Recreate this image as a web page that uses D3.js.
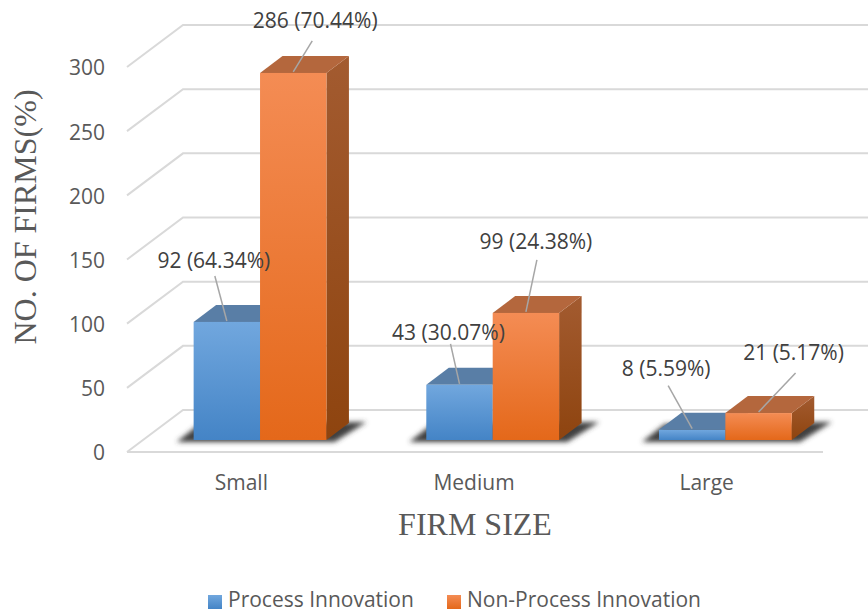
<!DOCTYPE html>
<html><head><meta charset="utf-8">
<script src="https://cdn.jsdelivr.net/npm/d3@7"></script>
<style>html,body{margin:0;background:#fff}svg{display:block}text{font-family:"Open Sans",sans-serif}</style>
</head><body><svg id="c" width="868" height="612"></svg>
<script>
const categories = ["Small", "Medium", "Large"];
const processInnovation = [92, 43, 8];
const nonProcessInnovation = [286, 99, 21];
const processLabels = ["92 (64.34%)", "43 (30.07%)", "8 (5.59%)"];
const nonProcessLabels = ["286 (70.44%)", "99 (24.38%)", "21 (5.17%)"];
const seriesNames = ["Process Innovation", "Non-Process Innovation"];
const yTicks = [0, 50, 100, 150, 200, 250, 300];

const svg = d3.select("#c");
const defs = svg.append("defs");
function grad(id, a, b) {
  const g = defs.append("linearGradient").attr("id", id).attr("x1", 0).attr("y1", 0).attr("x2", 0).attr("y2", 1);
  g.append("stop").attr("offset", 0).attr("stop-color", a);
  g.append("stop").attr("offset", 1).attr("stop-color", b);
}
grad("blue", "#71a7de", "#4484c6");
grad("orange", "#f48c54", "#e4681a");
grad("side", "#a35b30", "#8e440f");
defs.append("filter").attr("id", "blur").attr("x", "-20%").attr("y", "-50%").attr("width", "140%").attr("height", "200%")
  .append("feGaussianBlur").attr("stdDeviation", 2.6);

const depthX = 22.5, depthY = 17;
const wallX = 56, wallY = 42;
const x = d3.scaleBand().domain(categories).range([125, 823]);
const yAxis = d3.scaleLinear().domain([0, 300]).range([452, 67]);
const yBar = d3.scaleLinear().domain([0, 300]).range([440, 55]);
const grey = "#595959";

// gridlines: side wall and back wall
const gridG = svg.append("g").attr("fill", "none").attr("stroke", "#d9d9d9").attr("stroke-width", 2);
yTicks.forEach(t => {
  const y0 = yAxis(t);
  gridG.append("path").attr("d", `M127,${y0}L${127 + wallX},${y0 - wallY}L868,${y0 - wallY}`);
});
gridG.append("path").attr("d", `M127,${yAxis(0)}L823,${yAxis(0)}`);

// y tick labels
svg.append("g").selectAll("text").data(yTicks).join("text")
  .attr("x", 105).attr("y", d => yAxis(d) + 1).attr("dy", "0.35em").attr("text-anchor", "end")
  .attr("font-size", 21).attr("fill", grey).text(d => d);

// category labels
svg.append("g").selectAll("text").data(categories).join("text")
  .attr("x", d => x(d) + x.bandwidth() / 2).attr("y", 490).attr("text-anchor", "middle")
  .attr("font-size", 21).attr("fill", grey).text(d => d);

const barW = 66.4, shift = 18.7;
const barLeft = (c, s) => x(c) + x.bandwidth() / 2 + shift - barW + s * barW;

// floor shadows
svg.append("g").selectAll("path").data(categories).join("path")
  .attr("filter", "url(#blur)").attr("fill", "#3f3f3f")
  .attr("d", c => {
    const l = barLeft(c, 0), r = barLeft(c, 2), b = yBar(0);
    return `M${l - 17},${b + 2}L${l + 6},${b - 16}L${r + 40},${b - 18}L${r + 8},${b + 2}Z`;
  });

// bars
function bar(c, s, v, front, top, side) {
  const g = svg.append("g");
  const l = barLeft(c, s), r = l + barW, t = yBar(v), b = yBar(0);
  g.append("path").attr("fill", side).attr("d", `M${r},${t}L${r + depthX},${t - depthY}L${r + depthX},${b - depthY}L${r},${b}Z`);
  g.append("path").attr("fill", top).attr("d", `M${l},${t}L${l + depthX},${t - depthY}L${r + depthX},${t - depthY}L${r},${t}Z`);
  g.append("rect").attr("x", l).attr("y", t).attr("width", barW).attr("height", b - t).attr("fill", front);
}
categories.forEach((c, i) => {
  bar(c, 0, processInnovation[i], "url(#blue)", "#597ea6", "#597ea6");
  bar(c, 1, nonProcessInnovation[i], "url(#orange)", "#b4673d", "url(#side)");
});

// data labels with leader lines (offsets from each bar's top centre)
const procOffset = [[-13, -61, -12, -46], [-11, -52, -9, -41], [-26, -61, -24, -44]];
const nonOffset = [[22, -52, 19, -32], [10, -71, 11, -53], [35, -60, 37, -40]];
function label(c, s, v, text, off) {
  const cx = barLeft(c, s) + barW / 2, t = yBar(v);
  svg.append("line").attr("x1", cx).attr("y1", t - 1)
    .attr("x2", cx + off[2]).attr("y2", t + off[3]).attr("stroke", "#a6a6a6").attr("stroke-width", 1.5);
  svg.append("text").attr("x", cx + off[0]).attr("y", t + off[1]).attr("dy", "0.35em")
    .attr("text-anchor", "middle").attr("font-size", 21).attr("fill", "#404040").text(text);
}
categories.forEach((c, i) => {
  label(c, 0, processInnovation[i], processLabels[i], procOffset[i]);
  label(c, 1, nonProcessInnovation[i], nonProcessLabels[i], nonOffset[i]);
});

// axis titles
svg.append("text").attr("transform", "translate(36,217) rotate(-90)").attr("text-anchor", "middle")
  .style("font-family", "'Liberation Serif',serif").attr("font-size", 32).attr("fill", grey).text("NO. OF FIRMS(%)");
svg.append("text").attr("x", 475).attr("y", 535).attr("text-anchor", "middle")
  .style("font-family", "'Liberation Serif',serif").attr("font-size", 32).attr("fill", grey).text("FIRM SIZE");

// legend
const legendX = d3.scaleOrdinal().domain(seriesNames).range([208, 447]);
const legendFill = d3.scaleOrdinal().domain(seriesNames).range(["url(#blue)", "url(#orange)"]);
const lg = svg.append("g").selectAll("g").data(seriesNames).join("g");
lg.append("rect").attr("x", d => legendX(d)).attr("y", 595).attr("width", 14).attr("height", 14).attr("fill", d => legendFill(d));
lg.append("text").attr("x", d => legendX(d) + 20).attr("y", 607).attr("font-size", 21).attr("fill", grey).text(d => d);
</script></body></html>
